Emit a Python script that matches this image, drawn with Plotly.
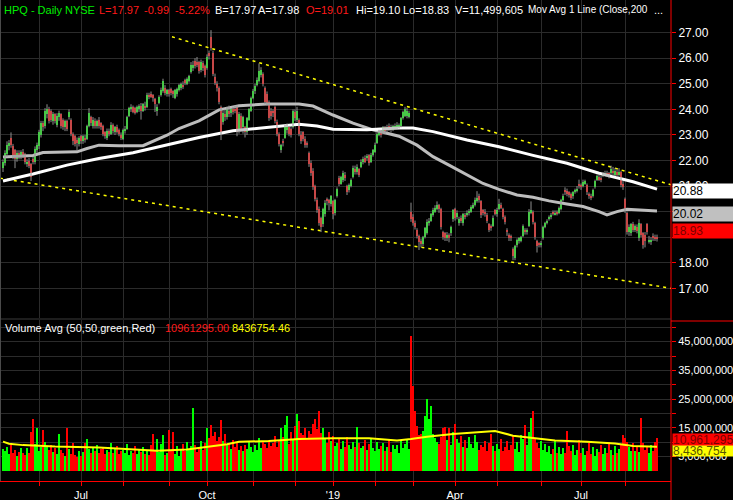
import pandas as pd
import plotly.graph_objects as go

# ---------------- data ----------------
START_DATE = "2018-05-07"
END_DATE = "2019-08-23"
HOLIDAYS = ["2018-05-28", "2018-07-04", "2018-09-03", "2018-11-22", "2018-12-05", "2018-12-25",
            "2019-01-01", "2019-01-21", "2019-02-18", "2019-04-19", "2019-05-27", "2019-07-04"]

OPEN = [
    21.70, 21.90, 22.25, 22.55, 22.90, 22.55, 22.40, 22.05, 22.30, 22.15,
    22.35, 22.25, 21.85, 22.00, 21.85, 22.05, 21.95, 22.40, 22.55, 23.00,
    23.45, 23.35, 23.80, 24.00, 23.95, 23.55, 23.80, 23.40, 23.70, 23.80,
    23.60, 23.30, 23.55, 23.70, 23.60, 23.05, 22.95, 22.80, 22.65, 22.95,
    22.75, 22.90, 22.85, 23.35, 23.70, 23.35, 23.55, 23.35, 23.60, 23.45,
    23.35, 23.10, 22.90, 23.15, 23.05, 23.40, 23.10, 23.30, 23.20, 23.00,
    22.85, 23.15, 23.25, 23.75, 24.00, 24.10, 24.05, 23.90, 24.00, 24.15,
    23.95, 24.15, 24.10, 24.55, 24.60, 24.55, 24.40, 23.95, 24.25, 24.55,
    24.70, 24.85, 24.60, 24.75, 24.80, 24.70, 24.45, 24.60, 24.75, 24.85,
    24.95, 25.15, 25.00, 25.10, 25.45, 25.60, 25.90, 25.85, 25.85, 25.55,
    25.80, 25.70, 25.60, 26.20, 26.85, 26.20, 25.25, 25.00, 24.85, 24.10,
    23.50, 23.80, 23.70, 23.95, 23.85, 24.00, 24.00, 24.10, 23.20, 23.75,
    23.30, 23.30, 23.10, 23.60, 23.95, 24.45, 24.70, 24.95, 25.10, 25.35,
    25.40, 24.85, 24.60, 24.30, 23.95, 23.95, 24.10, 23.50, 23.05, 22.40,
    22.75, 22.90, 23.20, 23.30, 23.25, 23.30, 23.90, 23.60, 23.60, 23.00,
    23.10, 22.85, 22.70, 22.30, 21.90, 21.60, 21.00, 20.45, 20.10, 19.75,
    19.50, 19.90, 20.50, 20.45, 20.30, 20.40, 19.95, 20.60, 21.30, 21.10,
    21.25, 21.45, 21.00, 20.85, 21.00, 21.35, 21.65, 21.55, 21.65, 21.75,
    21.95, 22.10, 22.10, 22.20, 21.95, 22.20, 22.35, 22.70, 23.00, 23.10,
    23.10, 23.30, 23.20, 23.35, 23.30, 23.20, 23.25, 23.25, 23.30, 23.35,
    23.65, 23.75, 23.75, 23.70, 20.00, 19.80, 19.55, 19.30, 19.05, 18.85,
    18.75, 19.00, 19.15, 19.55, 19.65, 19.85, 20.00, 20.10, 20.25, 20.10,
    19.20, 19.15, 18.95, 19.10, 19.15, 19.70, 20.10, 19.80, 19.55, 19.75,
    19.55, 19.85, 19.85, 19.95, 20.00, 20.15, 20.25, 20.40, 20.60, 20.40,
    20.05, 20.00, 19.85, 19.50, 19.45, 19.45, 20.05, 19.90, 20.10, 20.25,
    20.10, 19.80, 19.30, 19.10, 19.05, 18.55, 18.20, 18.70, 18.85, 18.85,
    19.05, 19.30, 19.20, 19.45, 19.95, 20.00, 19.55, 18.85, 18.75, 18.70,
    18.95, 19.40, 19.55, 19.70, 19.80, 20.00, 19.90, 20.00, 19.95, 20.10,
    20.45, 20.85, 20.80, 20.75, 20.70, 20.60, 20.75, 20.80, 21.10, 21.05,
    21.00, 21.10, 21.05, 20.70, 20.60, 20.60, 20.95, 21.25, 21.35, 21.30,
    21.40, 21.45, 21.50, 21.50, 21.50, 21.60, 21.45, 21.55, 21.45, 21.55,
    21.10, 20.50, 19.95, 19.20, 19.15, 19.50, 19.30, 19.40, 18.95, 19.50,
    19.15, 19.10, 19.50, 18.85, 18.85, 19.05, 19.00, 19.01,
]

CLOSE = [
    21.95, 22.30, 22.60, 22.70, 22.60, 22.15, 22.05, 22.30, 22.15, 22.35,
    22.20, 21.95, 21.95, 21.80, 21.35, 21.95, 22.45, 22.60, 23.10, 23.45,
    23.30, 23.95, 24.00, 23.55, 23.60, 23.80, 23.55, 23.75, 23.85, 23.35,
    23.30, 23.55, 23.25, 23.90, 23.05, 22.75, 22.65, 22.70, 22.90, 22.75,
    22.95, 22.80, 23.35, 23.85, 23.45, 23.60, 23.35, 23.55, 23.35, 23.30,
    23.05, 22.95, 23.15, 23.05, 23.40, 23.15, 23.30, 23.10, 23.05, 22.90,
    23.20, 23.25, 23.70, 24.05, 24.10, 23.90, 23.85, 24.10, 24.15, 23.95,
    24.20, 24.05, 24.55, 24.50, 24.50, 24.45, 24.20, 24.10, 24.50, 24.75,
    25.10, 24.65, 24.75, 24.60, 24.65, 24.60, 24.75, 24.80, 24.95, 25.00,
    24.90, 25.05, 25.20, 25.30, 25.75, 25.75, 25.70, 25.75, 25.50, 25.85,
    25.60, 25.35, 26.05, 26.10, 26.40, 25.40, 25.05, 24.85, 24.30, 23.10,
    23.85, 23.70, 24.00, 23.80, 24.00, 23.90, 23.95, 23.10, 23.80, 23.25,
    23.70, 23.10, 23.65, 24.00, 24.45, 24.70, 24.90, 25.15, 25.50, 25.55,
    25.00, 24.30, 24.25, 23.65, 23.75, 23.85, 23.55, 23.05, 22.65, 22.60,
    22.70, 23.35, 23.40, 23.05, 23.00, 23.95, 23.65, 23.95, 23.05, 22.75,
    22.85, 22.60, 22.60, 21.85, 21.50, 20.95, 20.50, 20.05, 19.55, 19.40,
    20.10, 20.35, 20.40, 20.35, 20.60, 19.90, 20.45, 20.90, 21.10, 21.35,
    21.50, 21.30, 20.75, 21.05, 21.25, 21.70, 21.55, 21.75, 21.45, 21.95,
    22.05, 21.95, 22.15, 21.90, 22.20, 22.40, 22.60, 23.05, 23.10, 23.00,
    23.30, 23.15, 23.30, 23.20, 23.20, 23.35, 23.35, 23.40, 23.40, 23.65,
    23.90, 24.00, 23.95, 23.85, 19.70, 19.55, 19.40, 19.05, 18.80, 18.75,
    19.00, 19.35, 19.60, 19.65, 19.90, 20.05, 20.15, 20.25, 20.10, 19.40,
    19.00, 18.95, 19.10, 18.95, 19.40, 20.05, 19.75, 19.95, 19.70, 19.65,
    19.90, 19.80, 19.95, 20.00, 20.20, 20.25, 20.45, 20.55, 20.45, 19.85,
    19.95, 19.90, 19.65, 19.30, 19.35, 19.75, 19.90, 20.05, 20.30, 20.15,
    19.80, 19.60, 19.20, 18.95, 18.95, 18.25, 18.65, 18.90, 18.95, 19.00,
    19.45, 19.20, 19.30, 20.00, 20.05, 19.60, 19.00, 18.65, 18.70, 18.75,
    19.40, 19.55, 19.65, 19.80, 19.85, 19.90, 19.95, 19.90, 20.15, 20.45,
    20.60, 20.75, 20.70, 20.65, 20.55, 20.75, 20.85, 20.90, 21.00, 20.95,
    21.15, 21.20, 20.75, 20.60, 20.55, 20.85, 21.20, 21.40, 21.25, 21.25,
    21.50, 21.50, 21.45, 21.40, 21.65, 21.50, 21.60, 21.45, 21.55, 21.05,
    20.95, 20.10, 19.20, 19.40, 19.50, 19.30, 19.45, 19.25, 19.55, 19.10,
    18.70, 18.85, 19.20, 18.90, 18.90, 18.95, 18.95, 18.93,
]

HIGH = [
    22.05, 22.40, 22.75, 22.80, 23.10, 22.65, 22.45, 22.40, 22.40, 22.40,
    22.45, 22.30, 22.05, 22.10, 21.90, 22.15, 22.55, 22.70, 23.20, 23.55,
    23.55, 24.05, 24.20, 24.10, 24.00, 23.90, 23.85, 23.85, 23.95, 23.85,
    23.65, 23.60, 23.60, 24.00, 23.65, 23.10, 23.00, 22.90, 22.95, 23.00,
    23.00, 23.00, 23.40, 24.05, 23.75, 23.70, 23.65, 23.60, 23.70, 23.50,
    23.40, 23.15, 23.25, 23.25, 23.50, 23.45, 23.35, 23.40, 23.25, 23.10,
    23.25, 23.35, 23.75, 24.10, 24.20, 24.15, 24.10, 24.15, 24.20, 24.25,
    24.25, 24.30, 24.65, 24.65, 24.70, 24.60, 24.45, 24.20, 24.55, 24.85,
    25.20, 24.95, 24.80, 24.80, 24.85, 24.75, 24.80, 24.85, 25.00, 25.05,
    25.10, 25.20, 25.25, 25.35, 25.85, 25.90, 26.00, 26.05, 25.90, 25.95,
    25.90, 25.75, 26.15, 26.30, 27.10, 26.30, 25.40, 25.10, 24.90, 24.15,
    23.95, 24.00, 24.10, 24.15, 24.05, 24.10, 24.15, 24.15, 23.90, 23.85,
    23.75, 23.35, 23.70, 24.05, 24.50, 24.80, 25.00, 25.25, 25.80, 25.65,
    25.45, 24.90, 24.70, 24.35, 24.05, 24.00, 24.15, 23.60, 23.10, 22.65,
    22.85, 23.40, 23.45, 23.35, 23.30, 24.00, 24.00, 24.10, 23.65, 23.15,
    23.15, 22.95, 22.75, 22.35, 22.00, 21.70, 21.05, 20.55, 20.20, 19.80,
    20.15, 20.45, 20.55, 20.50, 20.65, 20.45, 20.50, 20.95, 21.40, 21.40,
    21.60, 21.55, 21.05, 21.10, 21.30, 21.80, 21.80, 21.85, 21.70, 22.05,
    22.15, 22.20, 22.25, 22.25, 22.30, 22.45, 22.70, 23.10, 23.20, 23.20,
    23.35, 23.35, 23.40, 23.45, 23.40, 23.40, 23.45, 23.50, 23.45, 23.70,
    23.95, 24.10, 24.05, 23.95, 20.35, 19.90, 19.65, 19.35, 19.10, 18.95,
    19.05, 19.40, 19.70, 19.75, 19.95, 20.15, 20.25, 20.40, 20.30, 20.15,
    19.25, 19.20, 19.20, 19.15, 19.45, 20.10, 20.15, 20.05, 19.80, 19.85,
    19.95, 19.95, 20.05, 20.10, 20.25, 20.35, 20.55, 20.80, 20.70, 20.45,
    20.10, 20.10, 19.95, 19.55, 19.50, 19.85, 20.10, 20.15, 20.50, 20.35,
    20.15, 19.85, 19.35, 19.15, 19.10, 18.60, 18.70, 18.95, 19.00, 19.05,
    19.50, 19.35, 19.35, 20.10, 20.40, 20.05, 19.60, 18.90, 18.80, 18.85,
    19.45, 19.60, 19.70, 19.85, 19.95, 20.05, 20.05, 20.05, 20.20, 20.50,
    20.70, 20.95, 20.90, 20.80, 20.75, 20.80, 20.90, 21.00, 21.25, 21.10,
    21.25, 21.25, 21.10, 20.75, 20.70, 20.90, 21.25, 21.45, 21.45, 21.40,
    21.55, 21.60, 21.60, 21.55, 21.80, 21.75, 21.70, 21.65, 21.70, 21.60,
    21.20, 20.55, 20.00, 19.50, 19.55, 19.60, 19.50, 19.50, 19.70, 19.55,
    19.20, 19.20, 19.55, 19.05, 19.00, 19.15, 19.10, 19.10,
]

LOW = [
    21.55, 21.80, 22.15, 22.40, 22.50, 22.05, 21.70, 21.95, 22.05, 22.05,
    22.10, 21.85, 21.75, 21.70, 21.20, 21.85, 21.85, 22.30, 22.45, 22.90,
    23.15, 23.25, 23.65, 23.45, 23.50, 23.40, 23.45, 23.30, 23.55, 23.25,
    23.20, 23.15, 23.15, 23.60, 22.95, 22.60, 22.55, 22.40, 22.55, 22.65,
    22.65, 22.70, 22.80, 23.30, 23.35, 23.25, 23.25, 23.25, 23.25, 23.20,
    22.95, 22.85, 22.80, 22.95, 23.00, 23.05, 23.00, 23.05, 22.95, 22.80,
    22.80, 23.05, 23.20, 23.70, 23.90, 23.85, 23.80, 23.85, 23.90, 23.60,
    23.90, 23.95, 24.05, 24.40, 24.45, 24.30, 23.90, 23.75, 24.20, 24.50,
    24.65, 24.55, 24.50, 24.50, 24.55, 24.45, 24.40, 24.50, 24.70, 24.75,
    24.80, 24.95, 24.95, 25.05, 25.40, 25.50, 25.60, 25.65, 25.40, 25.45,
    25.50, 25.25, 25.55, 25.95, 26.30, 25.30, 24.95, 24.70, 24.20, 22.80,
    23.40, 23.55, 23.60, 23.70, 23.70, 23.80, 23.85, 22.95, 23.05, 23.15,
    23.05, 22.90, 23.00, 23.55, 23.90, 24.40, 24.60, 24.90, 25.05, 25.25,
    24.90, 24.20, 24.15, 23.55, 23.60, 23.70, 23.45, 22.95, 22.55, 22.30,
    22.55, 22.85, 23.05, 22.95, 22.90, 23.25, 23.55, 23.50, 22.95, 22.65,
    22.75, 22.50, 22.50, 21.75, 21.40, 20.85, 20.40, 19.95, 19.45, 19.20,
    19.40, 19.80, 20.25, 20.05, 20.20, 19.70, 19.85, 20.55, 21.00, 21.05,
    21.15, 21.20, 20.65, 20.75, 20.95, 21.30, 21.45, 21.45, 21.35, 21.70,
    21.85, 21.90, 22.00, 21.80, 21.90, 22.15, 22.30, 22.65, 22.95, 22.90,
    23.05, 23.05, 23.10, 23.15, 23.10, 23.15, 23.20, 23.20, 23.25, 23.30,
    23.60, 23.70, 23.65, 23.65, 19.60, 19.45, 19.30, 18.95, 18.50, 18.60,
    18.65, 18.95, 19.10, 19.45, 19.60, 19.80, 19.95, 20.05, 19.95, 19.30,
    18.90, 18.85, 18.85, 18.80, 19.05, 19.60, 19.65, 19.70, 19.45, 19.55,
    19.45, 19.70, 19.80, 19.85, 19.95, 20.10, 20.20, 20.35, 20.35, 19.75,
    19.85, 19.80, 19.55, 19.20, 19.25, 19.40, 19.85, 19.80, 20.05, 20.10,
    19.70, 19.50, 19.05, 18.85, 18.85, 18.10, 18.10, 18.60, 18.75, 18.80,
    19.00, 19.10, 19.10, 19.40, 19.90, 19.50, 18.90, 18.40, 18.60, 18.60,
    18.90, 19.35, 19.50, 19.65, 19.70, 19.85, 19.85, 19.85, 19.90, 20.05,
    20.40, 20.65, 20.60, 20.55, 20.45, 20.50, 20.70, 20.75, 20.90, 20.85,
    20.95, 21.05, 20.65, 20.50, 20.45, 20.55, 20.90, 21.20, 21.20, 21.15,
    21.35, 21.40, 21.35, 21.30, 21.45, 21.40, 21.40, 21.35, 21.40, 20.95,
    20.85, 19.95, 19.10, 19.05, 19.05, 19.20, 19.20, 19.15, 18.85, 19.00,
    18.55, 18.60, 19.10, 18.75, 18.70, 18.85, 18.85, 18.83,
]

# daily volume, millions of shares
VOLUME_M = [
    7.5, 6.8, 8.2, 5.9, 9.1, 6.4, 7.3, 5.2, 6.6, 8.0,
    6.1, 5.4, 7.9, 6.3, 13.7, 18.0, 9.5, 14.8, 7.0, 8.4,
    14.3, 10.0, 8.6, 7.2, 9.0, 6.5, 8.1, 5.9, 12.8, 7.4,
    6.2, 5.1, 14.8, 7.8, 6.0, 9.6, 5.5, 4.8, 6.9, 5.3,
    6.6, 9.7, 11.3, 7.8, 6.4, 8.3, 7.0, 9.1, 6.2, 7.6,
    8.4, 5.9, 7.2, 6.7, 9.9, 6.1, 7.5, 8.8, 5.8, 6.9,
    7.3, 6.4, 9.4, 5.6, 7.0, 6.3, 8.6, 5.9, 7.8, 6.5,
    8.2, 6.0, 7.4, 5.7, 8.9, 12.8, 7.1, 11.0, 6.6, 9.3,
    12.5, 5.7, 6.4, 14.3, 7.2, 13.4, 6.0, 8.8, 5.3, 7.6,
    9.4, 6.8, 10.2, 7.5, 8.7, 22.0, 9.1, 6.5, 8.0, 10.6,
    7.3, 9.8, 14.8, 11.5, 16.0, 12.2, 13.5, 10.4, 11.8, 17.7,
    10.6, 12.7, 8.9, 9.5, 7.8, 10.9, 8.2, 9.6, 7.4, 8.8,
    6.9, 9.2, 7.7, 10.3, 8.4, 6.6, 9.0, 7.2, 11.6, 8.1,
    10.0, 9.3, 7.9, 10.8, 8.6, 9.7, 12.1, 8.3, 10.5, 14.8,
    12.0, 16.0, 19.2, 9.4, 13.5, 11.0, 15.7, 20.0, 17.5, 13.3,
    12.6, 15.1, 11.4, 14.0, 12.8, 16.3, 18.0, 14.6, 21.0, 13.1,
    15.0, 11.2, 9.8, 13.6, 10.4, 12.3, 8.7, 9.9, 11.1, 7.8,
    10.6, 8.5, 12.0, 9.1, 7.5, 10.2, 8.3, 15.4, 9.6, 7.9,
    8.8, 10.7, 7.2, 9.4, 11.5, 8.1, 6.9, 10.0, 7.7, 8.6,
    9.8, 7.0, 8.4, 10.9, 6.5, 9.2, 7.6, 8.9, 6.2, 10.4,
    8.0, 9.5, 11.3, 7.8, 47.0, 29.6, 21.0, 15.5, 12.5, 12.8,
    13.8, 19.0, 25.0, 18.0, 22.6, 13.0, 11.5, 10.2, 9.4, 12.0,
    15.0, 15.2, 10.8, 15.0, 9.2, 13.4, 16.5, 11.0, 9.7, 12.2,
    8.5, 10.9, 7.9, 11.8, 9.3, 8.0, 12.4, 10.1, 7.4, 9.0,
    8.2, 10.6, 7.1, 9.9, 12.9, 8.7, 6.8, 9.5, 7.6, 11.2,
    6.9, 8.3, 10.4, 7.3, 9.1, 12.6, 7.8, 10.0, 6.5, 12.6,
    11.3, 16.0, 9.0, 13.7, 18.5, 21.0, 11.6, 9.8, 8.1, 10.5,
    7.2, 9.4, 6.6, 8.8, 5.9, 7.7, 10.3, 6.4, 8.5, 5.8,
    7.9, 6.1, 14.0, 8.6, 6.8, 9.0, 5.6, 7.4, 10.9, 6.3,
    8.1, 5.4, 7.0, 9.6, 6.0, 8.3, 5.2, 7.8, 6.7, 9.2,
    5.8, 8.0, 6.4, 10.1, 7.3, 5.5, 8.7, 6.2, 7.5, 9.0,
    12.5, 11.6, 10.0, 8.4, 6.9, 9.8, 7.1, 8.8, 6.5, 18.5,
    9.6, 7.3, 8.2, 6.1, 9.1, 7.0, 10.2, 11.5,
]

# moving averages (sampled, by trading-day index)
MA200_IDX = [0, 15, 32, 48, 65, 82, 98, 115, 132, 148, 157, 165, 182, 198, 205, 215,
             232, 248, 265, 282, 298, 315, 327]
MA200 = [21.20, 21.47, 21.82, 22.08, 22.30, 22.60, 22.90, 23.16, 23.30, 23.42, 23.35, 23.22,
         23.20, 23.27, 23.27, 23.13, 22.80, 22.54, 22.20, 21.89, 21.50, 21.17, 20.88]
MA50_IDX = [0, 15, 20, 37, 42, 48, 58, 70, 82, 88, 98, 108, 118, 132, 148, 155, 165, 175,
            185, 198, 207, 215, 223, 232, 240, 248, 257, 265, 273, 282, 290, 298, 302, 307,
            312, 327]
MA50 = [22.14, 22.20, 22.31, 22.34, 22.47, 22.60, 22.58, 22.58, 22.99, 23.25, 23.55, 23.98,
        24.14, 24.21, 24.21, 24.13, 23.78, 23.46, 23.20, 22.95, 22.60, 22.15, 21.82, 21.43,
        21.10, 20.87, 20.65, 20.56, 20.42, 20.30, 20.20, 20.00, 19.87, 20.00, 20.09, 20.02]
VOLAVG_IDX = [0, 3, 10, 26, 48, 63, 67, 77, 92, 101, 112, 118, 133, 148, 165, 183, 197, 204,
              212, 225, 234, 246, 255, 268, 276, 292, 306, 315, 327]
VOLAVG_M = [10.2, 9.5, 9.0, 8.5, 8.2, 7.6, 7.2, 7.0, 7.5, 8.2, 9.3, 10.2, 10.4, 11.1, 11.4,
            11.4, 10.6, 11.1, 11.9, 12.9, 13.3, 13.9, 12.3, 11.4, 10.6, 10.2, 9.6, 8.7, 8.44]

# trend channel (endpoints, by trading-day index)
UPPER_TREND_IDX = [84.5, 334]
UPPER_TREND = [26.84, 21.05]
LOWER_TREND_IDX = [-1.5, 334]
LOWER_TREND = [21.31, 17.00]

TICK_MONTHS = ["2018-06", "2018-07", "2018-08", "2018-09", "2018-10", "2018-11", "2018-12",
               "2019-01", "2019-02", "2019-03", "2019-04", "2019-05", "2019-06", "2019-07",
               "2019-08"]
TICK_TEXT = ["", "Jul", "", "", "Oct", "", "", "'19", "", "", "Apr", "", "", "Jul", ""]
PRICE_TICKS = [17, 18, 19, 20, 21, 22, 23, 24, 25, 26, 27]
PRICE_HIDDEN = [19, 20]
VOL_TICKS = [5, 10, 15, 20, 25, 30, 35, 40, 45, 50]
VOL_LABELED = [5, 15, 25, 35, 45]

HEADER = [("HPQ - Daily", "#00ee00", 11), ("NYSE", "#00ee00", 11), ("L=17.97", "#ff1a1a", 11),
          ("-0.99", "#ff1a1a", 11), ("-5.22%", "#ff1a1a", 11), ("B=17.97", "white", 11),
          ("A=17.98", "white", 11), ("O=19.01", "#ff1a1a", 11), ("Hi=19.10", "white", 11),
          ("Lo=18.83", "white", 11), ("V=11,499,605", "white", 11),
          ("Mov Avg 1 Line (Close,200", "white", 10), ("...", "white", 11)]
HEADER_X = [2, 63, 97, 142, 173, 213, 256, 304, 354, 401, 453, 526, 652]

VOL_LABEL = [("Volume Avg (50,50,green,Red)", "white"), ("10961295.00", "#ff1a1a"),
             ("8436754.46", "#ffff00")]
VOL_LABEL_X = [3, 163, 230]

PRICE_TAGS = [("20.88", "#ffffff", "#000000", 190.5),
              ("20.02", "#c0c0c0", "#000000", 214),
              ("18.93", "#ff0000", "#7a0000", 231)]
VOL_TAGS = [("8,436,754", "#ffff00", "#555500", 450),
            ("10,961,295", "#ff0000", "#7a0000", 439.5)]

# ---------------- figure ----------------
W, H = 733, 500
PLOT_R = 671
FONT = "Liberation Sans, Arial, sans-serif"
GRID = "#2b2b2b"

dates = [d for d in pd.bdate_range(START_DATE, END_DATE) if d.strftime("%Y-%m-%d") not in HOLIDAYS]
N = len(dates)
assert N == len(OPEN) == len(CLOSE) == len(HIGH) == len(LOW) == len(VOLUME_M), (
    N, len(OPEN), len(CLOSE), len(HIGH), len(LOW), len(VOLUME_M))
idx = list(range(N))
month_str = [d.strftime("%Y-%m") for d in dates]
tick_idx = [month_str.index(m) for m in TICK_MONTHS]


def px(x):
    return x / W


def py(y):
    return 1 - y / H


up = [c >= o for o, c in zip(OPEN, CLOSE)]
colors = ["#00ff00" if u else "#ff0000" for u in up]
body_base = [min(o, c) for o, c in zip(OPEN, CLOSE)]
body_h = [max(abs(c - o), 0.04) for o, c in zip(OPEN, CLOSE)]

wx, wy = [], []
for i in idx:
    wx += [i, i, None]
    wy += [LOW[i], HIGH[i], None]

fig = go.Figure()
# trend channel
fig.add_trace(go.Scatter(x=UPPER_TREND_IDX, y=UPPER_TREND, mode="lines",
                         line=dict(color="#ffff00", width=1.5, dash="3px,4px"),
                         xaxis="x", yaxis="y", hoverinfo="skip"))
fig.add_trace(go.Scatter(x=LOWER_TREND_IDX, y=LOWER_TREND, mode="lines",
                         line=dict(color="#ffff00", width=1.5, dash="3px,4px"),
                         xaxis="x", yaxis="y", hoverinfo="skip"))
# moving averages
fig.add_trace(go.Scatter(x=MA50_IDX, y=MA50, mode="lines", line=dict(color="#bdbdbd", width=3),
                         xaxis="x", yaxis="y", hoverinfo="skip"))
fig.add_trace(go.Scatter(x=MA200_IDX, y=MA200, mode="lines", line=dict(color="#ffffff", width=3),
                         xaxis="x", yaxis="y", hoverinfo="skip"))
# wicks
fig.add_trace(go.Scatter(x=wx, y=wy, mode="lines", line=dict(color="#8f8f8f", width=1),
                         xaxis="x", yaxis="y", hoverinfo="skip"))
# bodies
fig.add_trace(go.Bar(x=idx, y=body_h, base=body_base, width=1.0,
                     marker=dict(color=colors, line=dict(width=0)),
                     xaxis="x", yaxis="y", hoverinfo="skip"))
# volume
fig.add_trace(go.Bar(x=idx, y=VOLUME_M, width=0.65,
                     marker=dict(color=colors, line=dict(width=0)),
                     xaxis="x", yaxis="y2", hoverinfo="skip"))
fig.add_trace(go.Scatter(x=VOLAVG_IDX, y=VOLAVG_M, mode="lines",
                         line=dict(color="#ffff00", width=2),
                         xaxis="x", yaxis="y2", hoverinfo="skip"))

tickfont = dict(color="white", size=12, family=FONT)
fig.update_layout(
    width=W, height=H, margin=dict(l=0, r=0, t=0, b=0),
    paper_bgcolor="black", plot_bgcolor="black", showlegend=False, hovermode=False,
    bargap=0,
    font=dict(family=FONT, color="white", size=11),
    xaxis=dict(domain=[0, px(PLOT_R)], range=[-1.5, 334], anchor="y2",
               tickmode="array", tickvals=tick_idx, ticktext=TICK_TEXT,
               showgrid=True, gridcolor=GRID, gridwidth=1, zeroline=False,
               ticks="outside", ticklen=4, tickcolor="#ff0000",
               tickfont=dict(color="white", size=11, family=FONT),
               showline=True, linecolor="#ff0000", linewidth=1, fixedrange=True),
    yaxis=dict(domain=[py(318), 1], range=[27 - (318 - 32.7) / 25.56, 27 + 32.7 / 25.56],
               side="right", anchor="x", tickmode="array", tickvals=PRICE_TICKS,
               ticktext=["" if v in PRICE_HIDDEN else f"{v:.2f}" for v in PRICE_TICKS],
               showgrid=True, gridcolor=GRID, zeroline=False,
               ticks="outside", ticklen=4, tickcolor="#ff0000", tickfont=tickfont,
               showline=False, fixedrange=True),
    yaxis2=dict(domain=[py(481), py(320)], range=[(471 - 481) / 2.875, (471 - 320) / 2.875],
                side="right", anchor="x", tickmode="array", tickvals=VOL_TICKS,
                ticktext=[f"{int(v * 1e6):,}" if v in VOL_LABELED else "" for v in VOL_TICKS],
                showgrid=True, gridcolor=GRID, zeroline=False,
                ticks="outside", ticklen=4, tickcolor="#ff0000",
                tickfont=dict(color="white", size=11, family=FONT),
                showline=False, fixedrange=True),
)

shapes = [
    dict(type="line", xref="paper", yref="paper", x0=px(PLOT_R), x1=px(PLOT_R), y0=0, y1=1,
         line=dict(color="#ff0000", width=1)),
    dict(type="line", xref="paper", yref="paper", x0=px(PLOT_R), x1=1, y0=py(321), y1=py(321),
         line=dict(color="#ff0000", width=1)),
    dict(type="line", xref="paper", yref="paper", x0=0, x1=px(PLOT_R), y0=py(319), y1=py(319),
         line=dict(color="#3a3a3a", width=1)),
    dict(type="line", xref="paper", yref="paper", x0=px(0.5), x1=px(0.5), y0=py(481), y1=1,
         line=dict(color="#4a4a4a", width=1)),
]
fig.update_layout(shapes=shapes)

ann = []
for (t, c, s), x in zip(HEADER, HEADER_X):
    ann.append(dict(text=t, x=px(x), y=py(9.5), xref="paper", yref="paper", xanchor="left",
                    yanchor="middle", showarrow=False, font=dict(color=c, size=s, family=FONT)))
for (t, c), x in zip(VOL_LABEL, VOL_LABEL_X):
    ann.append(dict(text=t, x=px(x), y=py(328), xref="paper", yref="paper", xanchor="left",
                    yanchor="middle", showarrow=False, font=dict(color=c, size=11, family=FONT)))
for t, bg, fc, yc in PRICE_TAGS:
    ann.append(dict(text=t, x=px(PLOT_R + 1), y=py(yc), xref="paper", yref="paper",
                    xanchor="left", yanchor="middle", showarrow=False, width=61, height=14,
                    align="left", bgcolor=bg, borderpad=0,
                    font=dict(color=fc, size=12, family=FONT)))
for t, bg, fc, yc in VOL_TAGS:
    ann.append(dict(text=t, x=px(PLOT_R + 1), y=py(yc), xref="paper", yref="paper",
                    xanchor="left", yanchor="middle", showarrow=False, width=61, height=11,
                    align="left", bgcolor=bg, borderpad=0,
                    font=dict(color=fc, size=12, family=FONT)))
fig.update_layout(annotations=ann)

fig.write_html("out.html")
